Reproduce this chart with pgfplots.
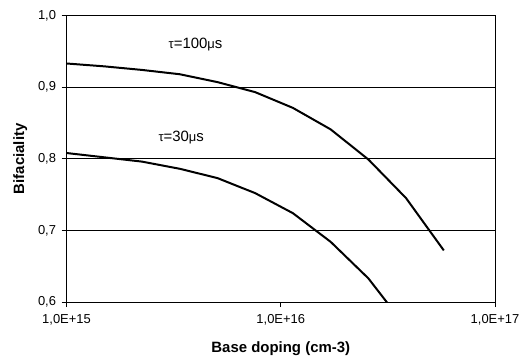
\documentclass[border=0pt]{standalone}
\usepackage{fontspec}
\setmainfont{Liberation Sans}
\usepackage{pgfplots}
\pgfplotsset{compat=1.18}
\begin{document}
\begin{tikzpicture}
\path[use as bounding box] (-66.5bp,-61bp) rectangle (455.5bp,302bp);
\begin{axis}[
  at={(0,0)}, anchor=south west,
  scale only axis,
  width=428.5bp, height=286.5bp,
  xmode=log,
  xmin=1e15, xmax=1e17,
  ymin=0.6, ymax=1.0,
  xtick={1e15,1e16,1e17},
  xticklabels={{1,0E+15},{1,0E+16},{1,0E+17}},
  ytick={0.6,0.7,0.8,0.9,1.0},
  yticklabels={{0,6},{0,7},{0,8},{0,9},{1,0}},
  xminorticks=false,
  xtick pos=bottom, ytick pos=left,
  tick align=outside,
  major tick length=5bp,
  tick style={black, line width=0.6pt},
  ymajorgrids,
  grid style={black, line width=0.6pt},
  axis line style={black, line width=0.7pt},
  ticklabel style={font=\fontsize{13}{15}\selectfont},
  xticklabel style={yshift=-4bp},
  yticklabel style={xshift=-2bp},
  xlabel={\textbf{Base doping (cm-3)}},
  ylabel={\textbf{Bifaciality}},
  label style={font=\fontsize{15}{18}\selectfont},
  xlabel style={yshift=-10bp},
  ylabel style={yshift=4bp},
  clip=true,
  /pgf/number format/assume math mode=true,
]
\addplot[black, line width=2pt, no markers] coordinates {
(1e15,0.933) (1.5e15,0.929) (2.25e15,0.924) (3.375e15,0.918) (5.0625e15,0.907)
(7.594e15,0.893) (1.139e16,0.871) (1.709e16,0.841) (2.563e16,0.799) (3.844e16,0.745) (5.767e16,0.672)
};
\addplot[black, line width=2pt, no markers] coordinates {
(1e15,0.808) (1.5e15,0.802) (2.25e15,0.796) (3.375e15,0.786) (5.0625e15,0.773)
(7.594e15,0.752) (1.139e16,0.724) (1.709e16,0.684) (2.563e16,0.633) (3.844e16,0.565)
};
\node[font=\fontsize{15}{17}\selectfont] at (axis cs:4e15,0.959) {{\fontsize{13}{15}\selectfont τ}=100{\fontsize{13}{15}\selectfont μ}s};
\node[font=\fontsize{15}{17}\selectfont] at (axis cs:3.43e15,0.830) {{\fontsize{13}{15}\selectfont τ}=30{\fontsize{13}{15}\selectfont μ}s};
\end{axis}
\end{tikzpicture}
\end{document}
